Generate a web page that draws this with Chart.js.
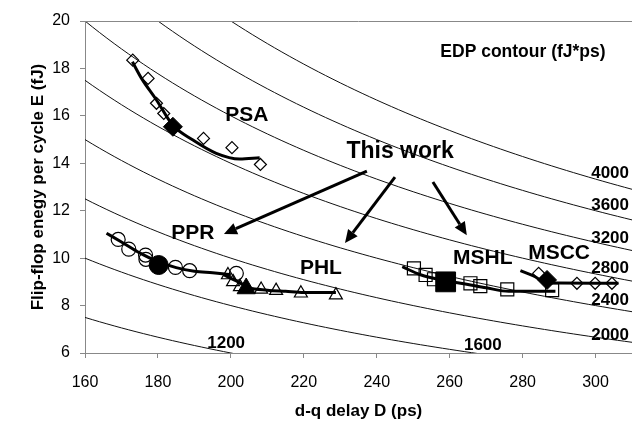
<!DOCTYPE html>
<html>
<head>
<meta charset="utf-8">
<script src="https://cdn.jsdelivr.net/npm/chart.js@4/dist/chart.umd.min.js"></script>
<style>
  html, body { margin: 0; padding: 0; background: #fff; overflow: hidden; }
  #wrap { width: 632px; height: 424px; }
  canvas { display: block; }
</style>
</head>
<body>
<div id="wrap"><canvas id="myChart" width="632" height="424"></canvas></div>
<script>
// axis ticks
const xTicks = [160, 180, 200, 220, 240, 260, 280, 300];
const yTicks = [6, 8, 10, 12, 14, 16, 18, 20];

// EDP contour levels (fJ*ps)
const edpLevels = [1200, 1600, 2000, 2400, 2800, 3200, 3600, 4000];

// PSA (open diamonds) + highlighted point
const psaD = [173.1, 177.3, 179.6, 181.6, 192.5, 200.3, 208.1];
const psaE = [18.35, 17.58, 16.53, 16.1, 15.05, 14.66, 13.95];
const psaMainD = [184.1];
const psaMainE = [15.54];
const psaFitD = [173, 175.5, 179.6, 184.1, 189.6, 196, 202.4, 207.9];
const psaFitE = [18.28, 17.58, 16.67, 15.6, 14.98, 14.42, 14.18, 14.23];

// PPR (open circles)
const pprD = [169.1, 172, 176.6, 176.7, 184.8, 188.7, 201.5];
const pprE = [10.79, 10.38, 10.13, 9.95, 9.61, 9.47, 9.36];
const pprMainD = [180.2];
const pprMainE = [9.71];
const pprFitD = [165.9, 170, 175, 180, 185, 190, 195, 200];
const pprFitE = [11.05, 10.68, 10.22, 9.85, 9.6, 9.45, 9.38, 9.3];

// PHL (open triangles)
const phlD = [199.2, 200.6, 202.5, 208.3, 212.4, 219.2, 228.8];
const phlE = [9.29, 9.0, 8.79, 8.68, 8.63, 8.52, 8.44];
const phlMainD = [204.2];
const phlMainE = [8.72];
const phlFitD = [198, 202, 205, 210, 215, 220, 228.8];
const phlFitE = [9.3, 9.0, 8.75, 8.65, 8.6, 8.55, 8.55];

// MSHL (open squares)
const mshlD = [250.2, 253.4, 255.7, 265.7, 268.4, 275.8, 288.1];
const mshlE = [9.57, 9.29, 9.11, 8.94, 8.82, 8.68, 8.65];
const mshlMainD = [258.9];
const mshlMainE = [9.0];
const mshlFitD = [247, 252, 258.9, 264.3, 270, 276.2, 289];
const mshlFitE = [9.64, 9.3, 9.05, 8.91, 8.75, 8.6, 8.6];

// MSCC (open diamonds)
const msccD = [284.4, 294.9, 299.9, 304.5];
const msccE = [9.36, 8.94, 8.94, 8.94];
const msccMainD = [286.7];
const msccMainE = [9.08];
const msccFitD = [279.4, 283, 286.7, 290, 306.3];
const msccFitE = [9.47, 9.25, 8.96, 8.95, 8.94];

const pts = (xs, ys) => xs.map((x, i) => ({ x: x, y: ys[i] }));
const contour = (c) => {
  const out = [];
  for (let d = 150; d <= 320; d += 2) out.push({ x: d, y: c / d });
  return out;
};

const openStyle = { backgroundColor: 'rgba(0,0,0,0)', borderColor: '#000', borderWidth: 1.2, showLine: false };
const fillStyle = { backgroundColor: '#000', borderColor: '#000', borderWidth: 1, showLine: false };
const fitStyle = { borderColor: '#000', borderWidth: 3, pointRadius: 0, showLine: true, tension: 0.4, cubicInterpolationMode: 'monotone', fill: false };

const datasets = [
  // filled markers on top
  { ...fillStyle, data: pts(psaMainD, psaMainE), pointStyle: 'rectRot', pointRadius: 9.5, order: 0 },
  { ...fillStyle, data: pts(pprMainD, pprMainE), pointStyle: 'circle', pointRadius: 9.5, order: 0 },
  { ...fillStyle, data: pts(phlMainD, phlMainE), pointStyle: 'triangle', pointRadius: 10.5, order: 0 },
  { ...fillStyle, data: pts(mshlMainD, mshlMainE), pointStyle: 'rect', pointRadius: 14, order: 0 },
  { ...fillStyle, data: pts(msccMainD, msccMainE), pointStyle: 'rectRot', pointRadius: 9.5, order: 0 },
  // trend lines
  { ...fitStyle, data: pts(psaFitD, psaFitE), order: 1 },
  { ...fitStyle, data: pts(pprFitD, pprFitE), order: 1 },
  { ...fitStyle, data: pts(phlFitD, phlFitE), order: 1 },
  { ...fitStyle, data: pts(mshlFitD, mshlFitE), order: 1 },
  { ...fitStyle, data: pts(msccFitD, msccFitE), order: 1 },
  // open markers
  { ...openStyle, data: pts(psaD, psaE), pointStyle: 'rectRot', pointRadius: 6, order: 2 },
  { ...openStyle, data: pts(pprD, pprE), pointStyle: 'circle', pointRadius: 7, order: 2 },
  { ...openStyle, data: pts(phlD, phlE), pointStyle: 'triangle', pointRadius: 7.5, order: 2 },
  { ...openStyle, data: pts(mshlD, mshlE), pointStyle: 'rect', pointRadius: 9.2, order: 2 },
  { ...openStyle, data: pts(msccD, msccE), pointStyle: 'rectRot', pointRadius: 6, order: 2 },
];
edpLevels.forEach((c) => {
  datasets.push({ data: contour(c), showLine: true, borderColor: '#111', borderWidth: 1, pointRadius: 0, tension: 0, order: 3 });
});

// text labels and arrows (data coordinates)
const labels = [
  { text: 'PSA', x: 204.4, y: 16.04, size: 21 },
  { text: 'This work', x: 246.4, y: 14.47, size: 23 },
  { text: 'PPR', x: 189.6, y: 11.06, size: 21 },
  { text: 'PHL', x: 224.7, y: 9.58, size: 21 },
  { text: 'MSHL', x: 269.1, y: 10.0, size: 21 },
  { text: 'MSCC', x: 290, y: 10.21, size: 21 },
  { text: 'EDP contour (fJ*ps)', x: 280.1, y: 18.69, size: 17.5 },
  { text: '4000', x: 304, y: 13.59, size: 17 },
  { text: '3600', x: 304, y: 12.24, size: 17 },
  { text: '3200', x: 304, y: 10.85, size: 17 },
  { text: '2800', x: 304, y: 9.58, size: 17 },
  { text: '2400', x: 304, y: 8.23, size: 17 },
  { text: '2000', x: 304, y: 6.76, size: 17 },
  { text: '1600', x: 269.1, y: 6.33, size: 17 },
  { text: '1200', x: 198.7, y: 6.42, size: 17 },
];
const arrows = [
  { x0: 237.3, y0: 13.67, x1: 198.1, y1: 11.02 },
  { x0: 245.0, y0: 13.42, x1: 231.3, y1: 10.64 },
  { x0: 255.4, y0: 13.21, x1: 264.7, y1: 10.97 },
];

const annotate = {
  id: 'annotate',
  afterDatasetsDraw(chart) {
    const { ctx, chartArea, scales: { x, y } } = chart;
    ctx.save();
    // top border
    ctx.strokeStyle = '#888';
    ctx.lineWidth = 1;
    ctx.beginPath();
    ctx.moveTo(chartArea.left, chartArea.top + 0.5);
    ctx.lineTo(chartArea.right, chartArea.top + 0.5);
    ctx.stroke();

    ctx.fillStyle = '#000';
    ctx.textAlign = 'center';
    ctx.textBaseline = 'middle';
    labels.forEach((l) => {
      ctx.font = 'bold ' + l.size + 'px "Liberation Sans", Arial, sans-serif';
      ctx.fillText(l.text, x.getPixelForValue(l.x), y.getPixelForValue(l.y));
    });

    ctx.strokeStyle = '#000';
    ctx.lineWidth = 3;
    arrows.forEach((a) => {
      const px0 = x.getPixelForValue(a.x0), py0 = y.getPixelForValue(a.y0);
      const px1 = x.getPixelForValue(a.x1), py1 = y.getPixelForValue(a.y1);
      const ang = Math.atan2(py1 - py0, px1 - px0);
      const head = 13, w = 6;
      const bx = px1 - head * Math.cos(ang), by = py1 - head * Math.sin(ang);
      ctx.beginPath();
      ctx.moveTo(px0, py0);
      ctx.lineTo(bx, by);
      ctx.stroke();
      ctx.beginPath();
      ctx.moveTo(px1, py1);
      ctx.lineTo(bx + w * Math.sin(ang), by - w * Math.cos(ang));
      ctx.lineTo(bx - w * Math.sin(ang), by + w * Math.cos(ang));
      ctx.closePath();
      ctx.fill();
    });
    ctx.restore();
  }
};

const ctx = document.getElementById('myChart');
Chart.defaults.font.family = '"Liberation Sans", Arial, sans-serif';
Chart.defaults.color = '#000';

new Chart(ctx, {
  type: 'scatter',
  data: { datasets: datasets },
  plugins: [annotate],
  options: {
    responsive: false,
    animation: false,
    layout: { autoPadding: false, padding: { left: 28, right: 0, top: 21, bottom: 0 } },
    plugins: {
      legend: { display: false },
      tooltip: { enabled: false },
    },
    scales: {
      x: {
        type: 'linear',
        min: 160,
        max: 310,
        afterBuildTicks: (s) => { s.ticks = xTicks.map((v) => ({ value: v })); },
        afterFit: (s) => { s.height = 71; },
        grid: { drawOnChartArea: false, drawTicks: true, tickLength: 5, color: '#888' },
        border: { color: '#888', width: 1 },
        ticks: { font: { size: 16 }, padding: 15, maxRotation: 0 },
        title: { display: true, text: 'd-q delay D (ps)', font: { size: 17, weight: 'bold' }, padding: { top: 0, bottom: 2 } },
      },
      y: {
        type: 'linear',
        min: 6,
        max: 20,
        afterBuildTicks: (s) => { s.ticks = yTicks.map((v) => ({ value: v })); },
        afterFit: (s) => { s.width = 57; },
        grid: { drawOnChartArea: false, drawTicks: true, tickLength: 5, color: '#888' },
        border: { color: '#888', width: 1 },
        ticks: { font: { size: 16 }, padding: 10 },
        title: { display: true, text: 'Flip-flop enegy per cycle E (fJ)', font: { size: 17, weight: 'bold' }, padding: { top: 0, bottom: 0 } },
      },
    },
  },
});
</script>
</body>
</html>
